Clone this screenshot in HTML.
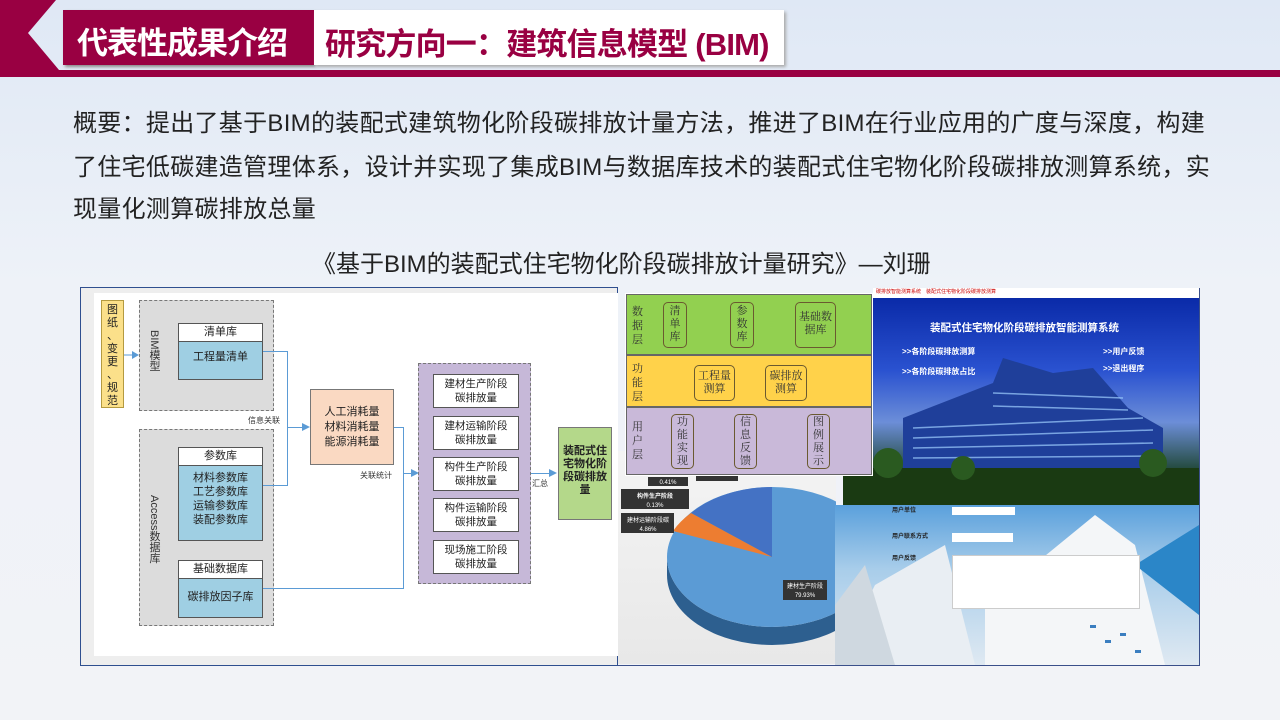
<!DOCTYPE html>
<html><head><meta charset="utf-8">
<style>
*{margin:0;padding:0;box-sizing:border-box}
body{width:1280px;height:720px;overflow:hidden;position:relative;font-family:"Liberation Sans","Noto Sans CJK SC",sans-serif;background:linear-gradient(180deg,#dfe8f5 0%,#eef2f8 40%,#f2f3f7 100%)}
.a{position:absolute}
.t{position:absolute;white-space:nowrap}
.p{font-size:24px;color:#222;left:73px;letter-spacing:0.3px}
.dash{position:absolute;border:1.5px dashed #777;background:#dcdcdc}
.hd{position:absolute;background:#fff;border:1px solid #555;font-size:11px;text-align:center;color:#222}
.bd{position:absolute;background:#9fcfe3;border:1px solid #555;font-size:11px;text-align:center;color:#222;line-height:14px}
.pb{position:absolute;background:#fff;border:1px solid #555;font-size:10.5px;text-align:center;line-height:14px;color:#222;padding-top:2px}
.ln{position:absolute;background:#5b9bd5}
.rb{position:absolute;border:1.5px solid #6a5a30;border-radius:5px;font-family:"Liberation Serif","Noto Serif CJK SC",serif;font-size:11px;color:#333;text-align:center;line-height:13px}
.lay{position:absolute;font-family:"Liberation Serif","Noto Serif CJK SC",serif;font-size:11px;color:#333;line-height:14px;width:12px}
</style></head><body>
<!-- header -->
<svg class="a" style="left:0;top:0" width="1280" height="80">
<polygon points="0,0 56,0 28,33 59,70 1280,70 1280,77 0,77" fill="#990042"/>
</svg>
<div class="a" style="left:63px;top:10px;width:251px;height:55px;background:#990042;box-shadow:2px 2px 3px #888"></div>
<div class="a" style="left:314px;top:10px;width:470px;height:55px;background:#fff;box-shadow:2px 2px 3px #aaa"></div>
<div class="t" style="left:77px;top:18px;font-size:31px;font-weight:bold;color:#fff;letter-spacing:-1px">代表性成果介绍</div>
<div class="t" style="left:325px;top:19px;font-size:31px;font-weight:bold;color:#990042;letter-spacing:-0.8px">研究方向一：建筑信息模型 (BIM)</div>

<div class="t p" style="top:103px">概要：提出了基于BIM的装配式建筑物化阶段碳排放计量方法，推进了BIM在行业应用的广度与深度，构建</div>
<div class="t p" style="top:147px">了住宅低碳建造管理体系，设计并实现了集成BIM与数据库技术的装配式住宅物化阶段碳排放测算系统，实</div>
<div class="t p" style="top:189px">现量化测算碳排放总量</div>
<div class="t" style="left:312px;top:244px;font-size:24px;color:#222">《基于BIM的装配式住宅物化阶段碳排放计量研究》—刘珊</div>

<!-- flowchart frame -->
<div class="a" style="left:80px;top:287px;width:538px;height:379px;background:#eeeeee;border:1px solid #2f4f8f"></div>
<div class="a" style="left:94px;top:293px;width:524px;height:363px;background:#fff"></div>
<div class="a" style="left:101px;top:300px;width:23px;height:108px;background:#fbe08a;border:1px solid #b49a40;font-size:11px;line-height:13px;text-align:center;padding-top:3px;color:#222">图<br>纸<br>、<br>变<br>更<br>、<br>规<br>范</div>
<div class="dash" style="left:139px;top:300px;width:135px;height:111px"></div>
<div class="t" style="left:146px;top:330px;font-size:11px;writing-mode:vertical-rl;color:#333">BIM模型</div>
<div class="hd" style="left:178px;top:323px;width:85px;height:19px;line-height:17px">清单库</div>
<div class="bd" style="left:178px;top:341px;width:85px;height:39px;padding-top:8px">工程量清单</div>
<div class="dash" style="left:139px;top:429px;width:135px;height:197px"></div>
<div class="t" style="left:146px;top:495px;font-size:11px;writing-mode:vertical-rl;color:#333">Access数据库</div>
<div class="hd" style="left:178px;top:447px;width:85px;height:19px;line-height:17px">参数库</div>
<div class="bd" style="left:178px;top:465px;width:85px;height:76px;padding-top:5px">材料参数库<br>工艺参数库<br>运输参数库<br>装配参数库</div>
<div class="hd" style="left:178px;top:560px;width:85px;height:19px;line-height:17px">基础数据库</div>
<div class="bd" style="left:178px;top:578px;width:85px;height:40px;padding-top:11px">碳排放因子库</div>
<!-- lines -->
<div class="ln" style="left:263px;top:351px;width:25px;height:1px"></div>
<div class="ln" style="left:287px;top:351px;width:1px;height:135px"></div>
<div class="ln" style="left:263px;top:485px;width:25px;height:1px"></div>
<div class="ln" style="left:287px;top:427px;width:17px;height:1px"></div>
<svg class="a" style="left:302px;top:423px" width="9" height="9"><polygon points="0,0 8,4 0,8" fill="#5b9bd5"/></svg>
<div class="t" style="left:248px;top:415px;font-size:8px;color:#333">信息关联</div>
<div class="a" style="left:310px;top:389px;width:84px;height:76px;background:#fad9c2;border:1px solid #777;font-size:11px;text-align:center;line-height:15px;padding-top:15px;color:#222">人工消耗量<br>材料消耗量<br>能源消耗量</div>
<div class="ln" style="left:394px;top:427px;width:10px;height:1px"></div>
<div class="ln" style="left:403px;top:427px;width:1px;height:162px"></div>
<div class="ln" style="left:263px;top:588px;width:141px;height:1px"></div>
<div class="ln" style="left:403px;top:473px;width:10px;height:1px"></div>
<svg class="a" style="left:411px;top:469px" width="9" height="9"><polygon points="0,0 8,4 0,8" fill="#5b9bd5"/></svg>
<div class="t" style="left:360px;top:470px;font-size:8px;color:#333">关联统计</div>
<div class="dash" style="left:418px;top:363px;width:113px;height:221px;background:#c6b8d8"></div>
<div class="pb" style="left:433px;top:374px;width:86px;height:34px">建材生产阶段<br>碳排放量</div>
<div class="pb" style="left:433px;top:416px;width:86px;height:34px">建材运输阶段<br>碳排放量</div>
<div class="pb" style="left:433px;top:457px;width:86px;height:34px">构件生产阶段<br>碳排放量</div>
<div class="pb" style="left:433px;top:498px;width:86px;height:34px">构件运输阶段<br>碳排放量</div>
<div class="pb" style="left:433px;top:540px;width:86px;height:34px">现场施工阶段<br>碳排放量</div>
<div class="ln" style="left:531px;top:473px;width:20px;height:1px"></div>
<svg class="a" style="left:549px;top:469px" width="9" height="9"><polygon points="0,0 8,4 0,8" fill="#5b9bd5"/></svg>
<div class="t" style="left:532px;top:478px;font-size:8px;color:#333">汇总</div>
<div class="a" style="left:558px;top:427px;width:54px;height:93px;background:#b4d88a;border:1px solid #777;font-size:11px;font-weight:bold;text-align:center;line-height:13px;padding-top:17px;color:#222">装配式住<br>宅物化阶<br>段碳排放<br>量</div>
<svg class="a" style="left:110px;top:350px" width="30" height="10"><line x1="14" y1="5" x2="24" y2="5" stroke="#5b9bd5"/><polygon points="22,1 29,5 22,9" fill="#5b9bd5"/></svg>

<!-- pie chart area -->
<div class="a" style="left:618px;top:451px;width:218px;height:213px;background:linear-gradient(180deg,#f4f4f4,#e8e8e8)"></div>
<svg class="a" style="left:618px;top:451px" width="218" height="213">
<defs><clipPath id="c"><rect width="218" height="213"/></clipPath></defs>
<g clip-path="url(#c)">
<path d="M49,106 A105,70 0 0 0 259,106 L259,124 A105,70 0 0 1 49,124 Z" fill="#2d5f8f"/>
<ellipse cx="154" cy="106" rx="105" ry="70" fill="#5b9bd5"/>
<path d="M154,106 L154,36 A105,70 0 0 0 73,62 Z" fill="#4472c4"/>
<path d="M154,106 L73,62 A105,70 0 0 0 55,80 Z" fill="#ed7d31"/>
</g>
<rect x="3" y="38" width="68" height="20" fill="#333"/>
<text x="37" y="47" font-size="6" fill="#fff" text-anchor="middle" font-weight="bold">构件生产阶段</text>
<text x="37" y="56" font-size="6" fill="#fff" text-anchor="middle">0.13%</text>
<rect x="3" y="62" width="53" height="20" fill="#333"/>
<text x="30" y="71" font-size="6" fill="#fff" text-anchor="middle">建材运输阶段碳</text>
<text x="30" y="80" font-size="6" fill="#fff" text-anchor="middle">4.86%</text>
<rect x="30" y="26" width="40" height="9" fill="#333"/>
<text x="50" y="33" font-size="6" fill="#fff" text-anchor="middle">0.41%</text>
<rect x="78" y="23" width="42" height="7" fill="#333"/>
<rect x="165" y="129" width="44" height="20" fill="#333"/>
<text x="187" y="137" font-size="6" fill="#fff" text-anchor="middle">建材生产阶段</text>
<text x="187" y="146" font-size="6" fill="#fff" text-anchor="middle">79.93%</text>
</svg>

<!-- building screenshot -->
<div class="a" style="left:873px;top:288px;width:326px;height:10px;background:#fff;font-size:5px;color:#c00;padding-left:3px">碳排放智能测算系统　装配式住宅物化阶段碳排放测算</div>
<div class="a" style="left:843px;top:298px;width:356px;height:207px;background:linear-gradient(180deg,#0a2aa8 0%,#2a52d0 35%,#6c8ed8 60%,#123a18 88%,#0a1a0a 100%)"></div>
<svg class="a" style="left:843px;top:298px" width="356" height="207">
<polygon points="60,120 150,85 160,60 210,75 250,70 285,110 320,130 320,195 60,195" fill="#1f3f9a"/>
<g stroke="#9fd0ff" stroke-width="1.5" opacity="0.7">
<line x1="70" y1="130" x2="300" y2="120"/><line x1="70" y1="140" x2="310" y2="132"/><line x1="70" y1="150" x2="310" y2="145"/><line x1="70" y1="160" x2="310" y2="158"/><line x1="150" y1="95" x2="280" y2="100"/><line x1="150" y1="108" x2="285" y2="112"/>
</g>
<rect x="0" y="170" width="356" height="37" fill="#1a3a12"/>
<circle cx="45" cy="165" r="15" fill="#2a5a20"/><circle cx="310" cy="165" r="14" fill="#2a5a20"/><circle cx="120" cy="170" r="12" fill="#2a5a20"/>
</svg>
<div class="t" style="left:930px;top:320px;font-size:10.5px;font-weight:bold;color:#fff">装配式住宅物化阶段碳排放智能测算系统</div>
<div class="t" style="left:902px;top:346px;font-size:8px;font-weight:bold;color:#fff">&gt;&gt;各阶段碳排放测算</div>
<div class="t" style="left:902px;top:366px;font-size:8px;font-weight:bold;color:#fff">&gt;&gt;各阶段碳排放占比</div>
<div class="t" style="left:1103px;top:346px;font-size:8px;font-weight:bold;color:#fff">&gt;&gt;用户反馈</div>
<div class="t" style="left:1103px;top:363px;font-size:8px;font-weight:bold;color:#fff">&gt;&gt;退出程序</div>

<!-- layer diagram (on top) -->
<div class="a" style="left:625px;top:293px;width:248px;height:183px;background:#fff"></div>
<div class="a" style="left:626px;top:294px;width:246px;height:61px;background:#92d050;border:1px solid #666"></div>
<div class="a" style="left:626px;top:355px;width:246px;height:52px;background:#ffd24a;border:1px solid #666"></div>
<div class="a" style="left:626px;top:407px;width:246px;height:68px;background:#c9b9d9;border:1px solid #666"></div>
<div class="lay" style="left:632px;top:305px">数<br>据<br>层</div>
<div class="lay" style="left:632px;top:362px">功<br>能<br>层</div>
<div class="lay" style="left:632px;top:420px">用<br>户<br>层</div>
<div class="rb" style="left:663px;top:302px;width:24px;height:46px;padding-top:2px">清<br>单<br>库</div>
<div class="rb" style="left:730px;top:302px;width:24px;height:46px;padding-top:2px">参<br>数<br>库</div>
<div class="rb" style="left:795px;top:302px;width:41px;height:46px;padding-top:8px">基础数<br>据库</div>
<div class="rb" style="left:694px;top:365px;width:41px;height:36px;padding-top:4px">工程量<br>测算</div>
<div class="rb" style="left:765px;top:365px;width:42px;height:36px;padding-top:4px">碳排放<br>测算</div>
<div class="rb" style="left:671px;top:414px;width:23px;height:55px;padding-top:1px">功<br>能<br>实<br>现</div>
<div class="rb" style="left:734px;top:414px;width:23px;height:55px;padding-top:1px">信<br>息<br>反<br>馈</div>
<div class="rb" style="left:807px;top:414px;width:23px;height:55px;padding-top:1px">图<br>例<br>展<br>示</div>

<!-- form screenshot -->
<div class="a" style="left:835px;top:505px;width:364px;height:160px;background:linear-gradient(180deg,#5aa0dc 0%,#a8cdea 40%,#dfe9f2 100%)"></div>
<svg class="a" style="left:835px;top:505px" width="364" height="160">
<polygon points="0,160 40,80 110,40 140,160" fill="#e9eef3"/>
<polygon points="150,100 260,10 300,40 330,160 150,160" fill="#f4f6f8"/>
<polygon points="300,60 364,20 364,110" fill="#2b86c8"/>
<polygon points="0,160 0,100 30,60 60,160" fill="#cfd8e0"/>
<g fill="#3a7ec0"><rect x="255" y="120" width="6" height="3"/><rect x="270" y="135" width="6" height="3"/><rect x="285" y="128" width="6" height="3"/><rect x="300" y="145" width="6" height="3"/></g>
</svg>
<div class="t" style="left:892px;top:505px;font-size:6px;font-weight:bold;color:#222">用户单位</div>
<div class="t" style="left:892px;top:531px;font-size:6px;font-weight:bold;color:#222">用户联系方式</div>
<div class="t" style="left:892px;top:553px;font-size:6px;font-weight:bold;color:#222">用户反馈</div>
<div class="a" style="left:952px;top:507px;width:63px;height:8px;background:#fff"></div>
<div class="a" style="left:952px;top:533px;width:61px;height:9px;background:#fff"></div>
<div class="a" style="left:952px;top:555px;width:188px;height:54px;background:#fff;border:1px solid #ccc"></div>
<div class="a" style="left:1199px;top:288px;width:1px;height:378px;background:#3a4f8a"></div>
<div class="a" style="left:618px;top:665px;width:582px;height:1px;background:#3a4f8a"></div>
</body></html>
